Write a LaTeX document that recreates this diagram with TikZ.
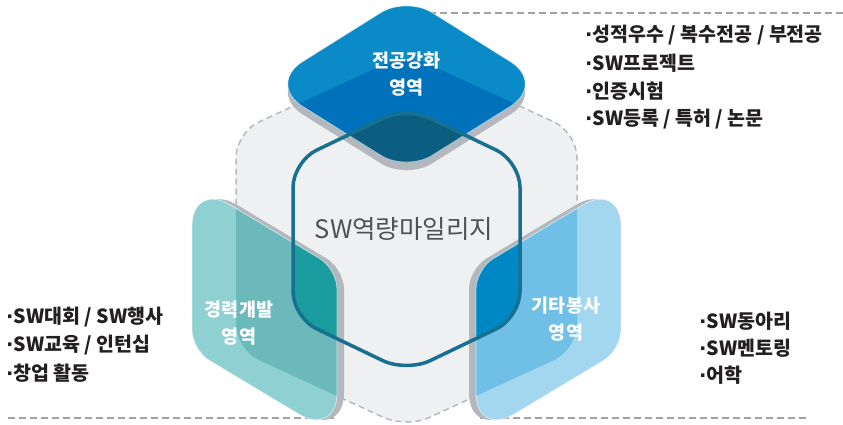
\documentclass[tikz,border=0pt]{standalone}
\usepackage{fontspec}
\setmainfont{Noto Sans CJK KR}
\newfontfamily\dotfont{DejaVu Sans}
\usetikzlibrary{calc}
\definecolor{topL}{HTML}{0A8AC7}
\definecolor{topM}{HTML}{0071BB}
\definecolor{topD}{HTML}{0C5E80}
\definecolor{lefL}{HTML}{8FD1D3}
\definecolor{lefM}{HTML}{6CB9BC}
\definecolor{lefD}{HTML}{1B9C9E}
\definecolor{rigL}{HTML}{A3D6EF}
\definecolor{rigM}{HTML}{6FBFE6}
\definecolor{rigD}{HTML}{0088C4}
\definecolor{shad}{HTML}{B3B7BE}
\definecolor{hexfill}{HTML}{EFF0F2}
\definecolor{hexdash}{HTML}{B6B9BF}
\definecolor{ring}{HTML}{17708F}
\definecolor{titlec}{HTML}{505153}
\definecolor{listc}{HTML}{231F20}
\definecolor{guide}{HTML}{9FA1A4}
% rounded corner at #2 (prev #1, next #3), cut distance #4
\newcommand{\rcorner}[4]{-- ($(#2)!#4pt!(#1)$) .. controls ($(#2)!#4pt*0.45!(#1)$) and ($(#2)!#4pt*0.45!(#3)$) .. ($(#2)!#4pt!(#3)$)}
\newcommand{\rndquad}[8]{($(#1)!0.5!(#2)$) \rcorner{#1}{#2}{#3}{#6} \rcorner{#2}{#3}{#4}{#7} \rcorner{#3}{#4}{#1}{#8} \rcorner{#4}{#1}{#2}{#5} -- cycle}
\newcommand{\rndhex}[7]{($(#1)!0.5!(#2)$) \rcorner{#1}{#2}{#3}{#7} \rcorner{#2}{#3}{#4}{#7} \rcorner{#3}{#4}{#5}{#7} \rcorner{#4}{#5}{#6}{#7} \rcorner{#5}{#6}{#1}{#7} \rcorner{#6}{#1}{#2}{#7} -- cycle}
\newcommand{\bul}{{\dotfont\bfseries ·}}
\tikzset{
  listtxt/.style={anchor=west, inner sep=0pt, text=listc, font=\fontsize{19.5}{24}\selectfont\bfseries},
  facelbl/.style={align=center, inner sep=0pt, text=white, font=\fontsize{18.5}{27}\selectfont\bfseries},
  guideline/.style={draw=guide, line width=1.3pt, dash pattern=on 7pt off 4pt},
  hexline/.style={draw=hexdash, line width=1.5pt, dash pattern=on 6pt off 4pt},
  highlight/.style={draw=white, draw opacity=0.55, line width=0.8pt},
}
\begin{document}
\begin{tikzpicture}[x=1pt,y=-1pt]
\useasboundingbox (0,0) rectangle (843,424);
% grey hexagon
\coordinate (G1) at (406.5,54);
\coordinate (G2) at (577,132.5);
\coordinate (G3) at (577,349.5);
\coordinate (G4) at (406.5,428);
\coordinate (G5) at (236,349.5);
\coordinate (G6) at (236,132.5);
% centre hexagon
\coordinate (C1) at (406.5,107);
\coordinate (C2) at (520,161.5);
\coordinate (C3) at (520,317.5);
\coordinate (C4) at (406.5,372);
\coordinate (C5) at (293,317.5);
\coordinate (C6) at (293,161.5);
% top face
\coordinate (TT) at (406.5,-3.4);
\coordinate (TR) at (546.1,84);
\coordinate (TB) at (406.5,171.4);
\coordinate (TL) at (266.9,84);
% left face
\coordinate (LA) at (192,182);
\coordinate (LB) at (337,269);
\coordinate (LC) at (337,437);
\coordinate (LD) at (192,350);
% right face
\coordinate (RA) at (621,182);
\coordinate (RB) at (476,269);
\coordinate (RC) at (476,437);
\coordinate (RD) at (621,350);
% guide line ends
\coordinate (gt1) at (406.5,13);
\coordinate (gt2) at (843,13);
\coordinate (gb1) at (8,418);
\coordinate (gb2) at (335,418);
\coordinate (gb3) at (480,418);
\coordinate (gb4) at (808,418);

\draw[guideline] (gt1) -- (gt2);
\draw[guideline] (gb1) -- (gb2);
\draw[guideline] (gb3) -- (gb4);

\path[fill=hexfill, hexline] \rndhex{G1}{G2}{G3}{G4}{G5}{G6}{25};

% top face
\fill[shad, transform canvas={yshift=-8pt}] \rndquad{TT}{TR}{TB}{TL}{30}{42}{30}{42};
\fill[topL] \rndquad{TT}{TR}{TB}{TL}{30}{42}{30}{42};
\begin{scope}
  \clip \rndquad{TT}{TR}{TB}{TL}{30}{42}{30}{42};
  \fill[topM] \rndhex{G1}{G2}{G3}{G4}{G5}{G6}{25};
  \fill[topD] \rndhex{C1}{C2}{C3}{C4}{C5}{C6}{26};
\end{scope}
\path[highlight] \rndquad{TT}{TR}{TB}{TL}{30}{42}{30}{42};

% left face
\fill[shad, transform canvas={xshift=7pt}] \rndquad{LA}{LB}{LC}{LD}{44}{20}{44}{20};
\fill[lefL] \rndquad{LA}{LB}{LC}{LD}{44}{20}{44}{20};
\begin{scope}
  \clip \rndquad{LA}{LB}{LC}{LD}{44}{20}{44}{20};
  \fill[lefM] \rndhex{G1}{G2}{G3}{G4}{G5}{G6}{25};
  \fill[lefD] \rndhex{C1}{C2}{C3}{C4}{C5}{C6}{26};
\end{scope}
\path[highlight] \rndquad{LA}{LB}{LC}{LD}{44}{20}{44}{20};

% right face
\fill[shad, transform canvas={xshift=-7pt}] \rndquad{RA}{RB}{RC}{RD}{44}{20}{44}{20};
\fill[rigL] \rndquad{RA}{RB}{RC}{RD}{44}{20}{44}{20};
\begin{scope}
  \clip \rndquad{RA}{RB}{RC}{RD}{44}{20}{44}{20};
  \fill[rigM] \rndhex{G1}{G2}{G3}{G4}{G5}{G6}{25};
  \fill[rigD] \rndhex{C1}{C2}{C3}{C4}{C5}{C6}{26};
\end{scope}
\path[highlight] \rndquad{RA}{RB}{RC}{RD}{44}{20}{44}{20};

% centre ring
\draw[ring, line width=3.5pt] \rndhex{C1}{C2}{C3}{C4}{C5}{C6}{26};

% texts
\node[text=titlec, inner sep=0pt, font=\fontsize{25.5}{30}\selectfont] (title) at (404,229) {SW역량마일리지};
\node[facelbl] (lblTop) at (406.5,74) {전공강화\\영역};
\node[facelbl] (lblLeft) at (239,323) {경력개발\\영역};
\node[facelbl] (lblRight) at (566,319) {기타봉사\\영역};

\node[listtxt] (tr1) at (585,35) {\bul 성적우수 / 복수전공 / 부전공};
\node[listtxt] (tr2) at (585,63) {\bul SW프로젝트};
\node[listtxt] (tr3) at (585,91) {\bul 인증시험};
\node[listtxt] (tr4) at (585,119) {\bul SW등록 / 특허 / 논문};

\node[listtxt] (bl1) at (6,317) {\bul SW대회 / SW행사};
\node[listtxt] (bl2) at (6,345) {\bul SW교육 / 인턴십};
\node[listtxt] (bl3) at (6,373) {\bul 창업 활동};

\node[listtxt] (br1) at (699,321) {\bul SW동아리};
\node[listtxt] (br2) at (699,348) {\bul SW멘토링};
\node[listtxt] (br3) at (699,375) {\bul 어학};
\end{tikzpicture}
\end{document}
